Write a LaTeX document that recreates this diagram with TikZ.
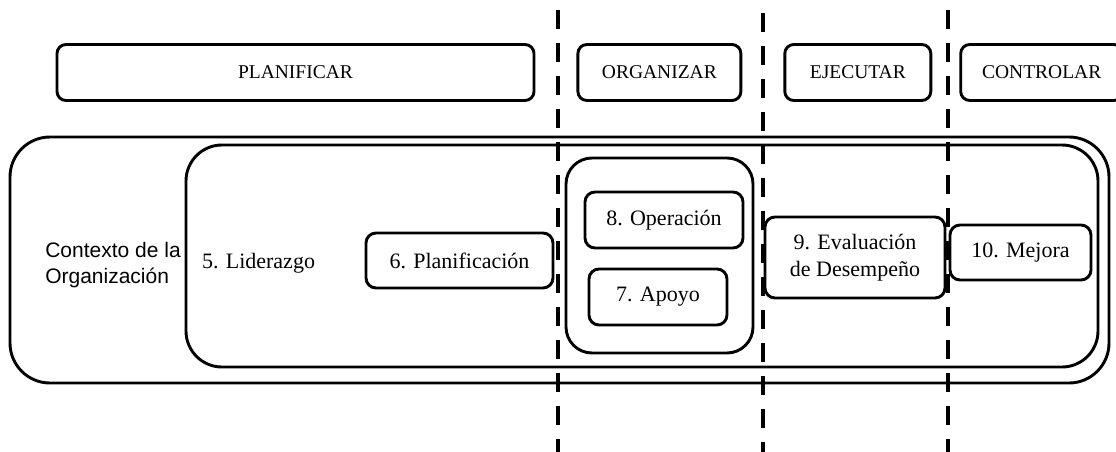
\documentclass[tikz,border=0pt]{standalone}
\usepackage{fontspec}
\setmainfont{Liberation Serif}
\newfontfamily\ctxfont{Liberation Sans}
\tikzstyle{phase}=[rectangle,rounded corners=9pt,line width=2.9pt,draw=black,
minimum height=56pt,inner sep=0pt,font=\fontsize{19.5}{23}\selectfont]
\tikzstyle{clause}=[rectangle,rounded corners=10pt,line width=2.9pt,draw=black,
minimum height=56pt,inner sep=0pt,align=center,font=\fontsize{22}{27}\selectfont]
\tikzstyle{frame}=[rectangle,line width=2.9pt,draw=black,inner sep=0pt]
\tikzstyle{divider}=[line width=4.5pt,dash pattern=on 19pt off 14pt]
\usetikzlibrary{positioning}

\begin{document}
\begin{tikzpicture}[x=1pt,y=-1pt]
            \useasboundingbox (0,0) rectangle (1116,452);

            % PHASES PART

            \node[phase,minimum width=477pt] (plan) at (295.5,72.5) {PLANIFICAR};
            \node[phase,minimum width=163pt,right=41pt of plan] (org) {ORGANIZAR};
            \node[phase,minimum width=146pt,right=41pt of org] (eje) {EJECUTAR};
            \node[phase,minimum width=162pt,right=27pt of eje] (con) {CONTROLAR};

            % FRAMES PART

            \node[frame,rounded corners=40pt,minimum width=1099pt,minimum height=246pt] (ctx) at (559.5,260) {};
            \node[frame,rounded corners=36pt,minimum width=912pt,minimum height=222pt] (sys) at (642,256) {};
            \node[frame,rounded corners=26pt,minimum width=187pt,minimum height=195pt] (grp) at (659.5,255.5) {};

            \node[align=left,inner sep=0pt,font=\ctxfont\fontsize{21}{26}\selectfont] (ctxtxt) at (113,265) {Contexto de la\\Organizaci\'on};

            % CLAUSES PART

            \node[inner sep=0pt,font=\fontsize{22}{27}\selectfont] (lid) at (258.5,263) {5. Liderazgo};
            \node[clause,minimum width=187pt,minimum height=55pt] (pla) at (459.5,260.5) {6. Planificaci\'on};
            \node[clause,minimum width=158pt] (ope) at (664,220) {8. Operaci\'on};
            \node[clause,minimum width=138pt] (apo) at (658,297) {7. Apoyo};
            \node[clause,minimum width=180pt,minimum height=81pt] (eva) at (855,257.5) {9. Evaluaci\'on\\de Desempe\~no};
            \node[clause,minimum width=141pt,minimum height=55pt] (mej) at (1020.5,252.5) {10. Mejora};

            % DIVIDERS PART

            \coordinate (d1a) at (558,10);
            \coordinate (d1b) at (558,452);
            \coordinate (d2a) at (763,13);
            \coordinate (d2b) at (763,452);
            \coordinate (d3a) at (948,10);
            \coordinate (d3b) at (948,452);

            \draw[divider] (d1a) -- (d1b);
            \draw[divider] (d2a) -- (d2b);
            \draw[divider] (d3a) -- (d3b);

        \end{tikzpicture}
\end{document}
